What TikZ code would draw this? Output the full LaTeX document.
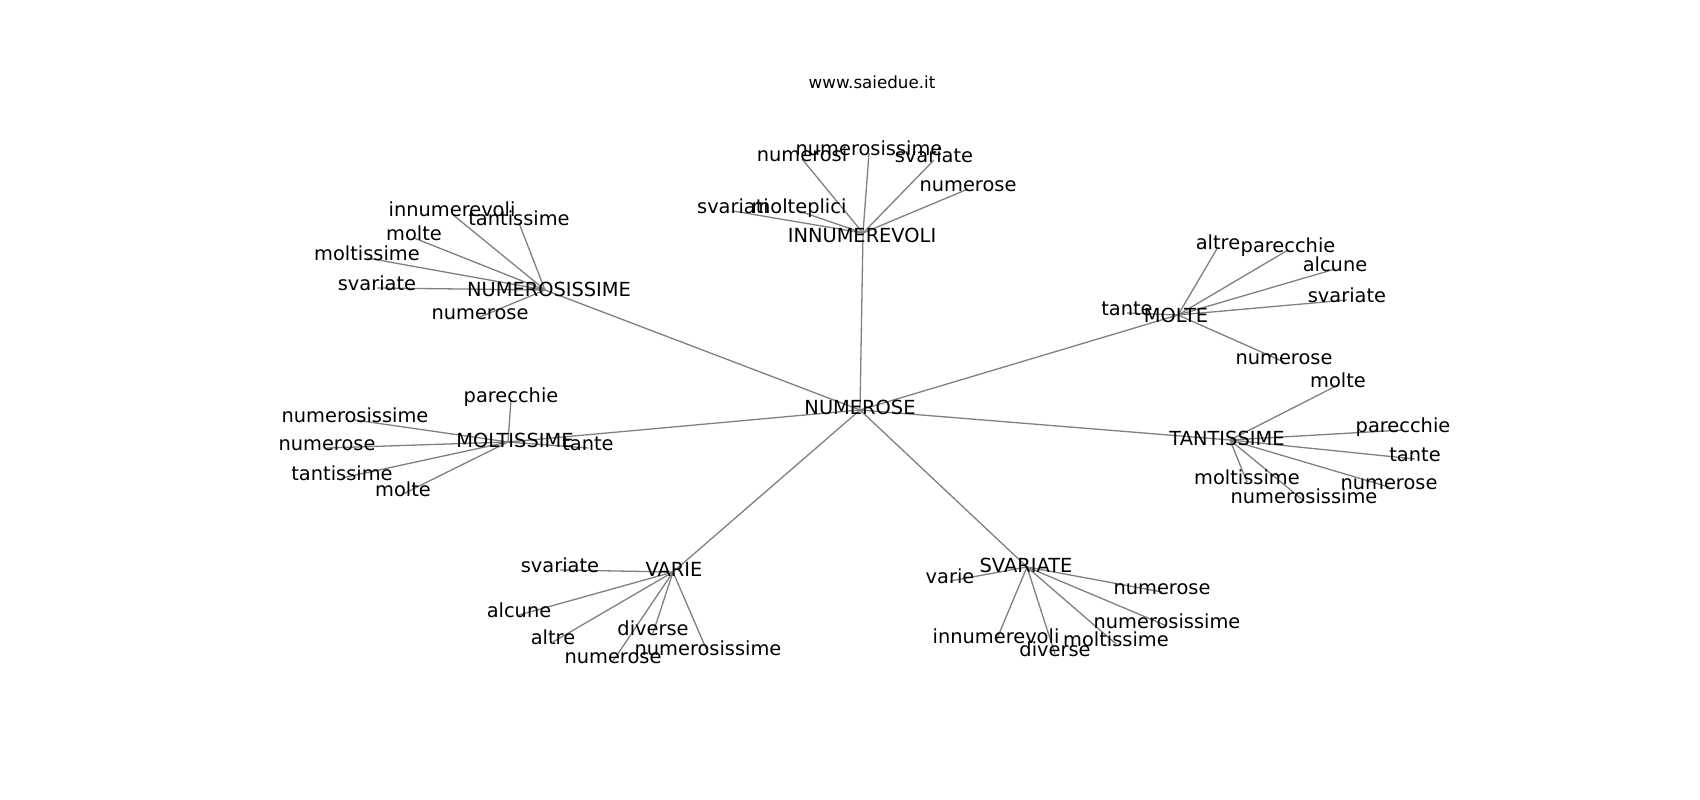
\documentclass[tikz,border=0pt]{standalone}
\usepackage{fontspec}
\setmainfont{DejaVu Sans}
\begin{document}
\begin{tikzpicture}[x=1pt,y=-1pt,
  lbl/.style={inner sep=0pt,text height=7.6pt,text depth=2.4pt,font=\fontsize{19.4}{23}\selectfont,text=black},
  ttl/.style={inner sep=0pt,font=\fontsize{16.7}{20}\selectfont},
  edge/.style={draw=gray,line width=1.3pt}]
\fill[white] (0,0) rectangle (1700,800);
\useasboundingbox (0,0) rectangle (1700,800);
% hubs
\coordinate (N0) at (860,410);
\coordinate (NS) at (545,290);
\coordinate (IN) at (863,233);
\coordinate (MO) at (1178,315);
\coordinate (TA) at (1230,440);
\coordinate (SV) at (1027,567);
\coordinate (VA) at (673,572);
\coordinate (ML) at (508,442);
% leaves NUMEROSISSIME
\coordinate (a1) at (452,214);
\coordinate (a2) at (519,223);
\coordinate (a3) at (414,238);
\coordinate (a4) at (367,258);
\coordinate (a5) at (377,288);
\coordinate (a6) at (480,317);
% INNUMEREVOLI
\coordinate (b1) at (802,159);
\coordinate (b2) at (869,153);
\coordinate (b3) at (934,160);
\coordinate (b4) at (968,189);
\coordinate (b5) at (733,211);
\coordinate (b6) at (799,211);
% MOLTE
\coordinate (c1) at (1127,313);
\coordinate (c2) at (1218,247);
\coordinate (c3) at (1288,250);
\coordinate (c4) at (1335,269);
\coordinate (c5) at (1347,300);
\coordinate (c6) at (1284,362);
% TANTISSIME
\coordinate (d1) at (1338,385);
\coordinate (d2) at (1403,430);
\coordinate (d3) at (1415,459);
\coordinate (d4) at (1389,487);
\coordinate (d5) at (1247,482);
\coordinate (d6) at (1304,501);
% VARIE
\coordinate (e1) at (560,570);
\coordinate (e2) at (519,615);
\coordinate (e3) at (553,642);
\coordinate (e4) at (653,633);
\coordinate (e5) at (613,661);
\coordinate (e6) at (708,653);
% SVARIATE
\coordinate (f1) at (950,581);
\coordinate (f2) at (1162,592);
\coordinate (f3) at (1167,626);
\coordinate (f4) at (996,641);
\coordinate (f5) at (1055,654);
\coordinate (f6) at (1116,644);
% MOLTISSIME
\coordinate (g1) at (511,400);
\coordinate (g2) at (355,420);
\coordinate (g3) at (327,448);
\coordinate (g4) at (342,478);
\coordinate (g5) at (403,494);
\coordinate (g6) at (588,448);
% edges
\foreach \h in {NS,IN,MO,TA,SV,VA,ML} \draw[edge] (N0) -- (\h);
\foreach \l in {a1,a2,a3,a4,a5,a6} \draw[edge] (NS) -- (\l);
\foreach \l in {b1,b2,b3,b4,b5,b6} \draw[edge] (IN) -- (\l);
\foreach \l in {c1,c2,c3,c4,c5,c6} \draw[edge] (MO) -- (\l);
\foreach \l in {d1,d2,d3,d4,d5,d6} \draw[edge] (TA) -- (\l);
\foreach \l in {e1,e2,e3,e4,e5,e6} \draw[edge] (VA) -- (\l);
\foreach \l in {f1,f2,f3,f4,f5,f6} \draw[edge] (SV) -- (\l);
\foreach \l in {g1,g2,g3,g4,g5,g6} \draw[edge] (ML) -- (\l);
% labels
\node[ttl] (title) at (872,82) {www.saiedue.it};
\node[lbl] (tN0) at (860,411.5) {NUMEROSE};
\node[lbl] (tNS) at (549,293.5) {NUMEROSISSIME};
\node[lbl] (tIN) at (862,239.5) {INNUMEREVOLI};
\node[lbl] (tMO) at (1176,319.5) {MOLTE};
\node[lbl] (tTA) at (1227,442.5) {TANTISSIME};
\node[lbl] (tSV) at (1026,569.5) {SVARIATE};
\node[lbl] (tVA) at (674,573.5) {VARIE};
\node[lbl] (tML) at (515,444.5) {MOLTISSIME};
\node[lbl] (ta1) at (a1) {innumerevoli};
\node[lbl] (ta2) at (a2) {tantissime};
\node[lbl] (ta3) at (a3) {molte};
\node[lbl] (ta4) at (a4) {moltissime};
\node[lbl] (ta5) at (a5) {svariate};
\node[lbl] (ta6) at (a6) {numerose};
\node[lbl] (tb1) at (b1) {numerosi};
\node[lbl] (tb2) at (b2) {numerosissime};
\node[lbl] (tb3) at (b3) {svariate};
\node[lbl] (tb4) at (b4) {numerose};
\node[lbl] (tb5) at (b5) {svariati};
\node[lbl] (tb6) at (b6) {molteplici};
\node[lbl] (tc1) at (c1) {tante};
\node[lbl] (tc2) at (c2) {altre};
\node[lbl] (tc3) at (c3) {parecchie};
\node[lbl] (tc4) at (c4) {alcune};
\node[lbl] (tc5) at (c5) {svariate};
\node[lbl] (tc6) at (c6) {numerose};
\node[lbl] (td1) at (d1) {molte};
\node[lbl] (td2) at (d2) {parecchie};
\node[lbl] (td3) at (d3) {tante};
\node[lbl] (td4) at (d4) {numerose};
\node[lbl] (td5) at (d5) {moltissime};
\node[lbl] (td6) at (d6) {numerosissime};
\node[lbl] (te1) at (e1) {svariate};
\node[lbl] (te2) at (e2) {alcune};
\node[lbl] (te3) at (e3) {altre};
\node[lbl] (te4) at (e4) {diverse};
\node[lbl] (te5) at (e5) {numerose};
\node[lbl] (te6) at (e6) {numerosissime};
\node[lbl] (tf1) at (f1) {varie};
\node[lbl] (tf2) at (f2) {numerose};
\node[lbl] (tf3) at (f3) {numerosissime};
\node[lbl] (tf4) at (f4) {innumerevoli};
\node[lbl] (tf5) at (f5) {diverse};
\node[lbl] (tf6) at (f6) {moltissime};
\node[lbl] (tg1) at (g1) {parecchie};
\node[lbl] (tg2) at (g2) {numerosissime};
\node[lbl] (tg3) at (g3) {numerose};
\node[lbl] (tg4) at (g4) {tantissime};
\node[lbl] (tg5) at (g5) {molte};
\node[lbl] (tg6) at (g6) {tante};
\end{tikzpicture}
\end{document}
